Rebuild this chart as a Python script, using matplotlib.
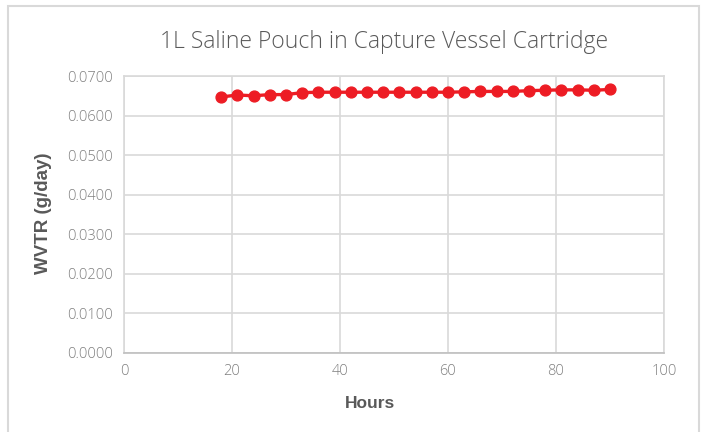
import matplotlib
matplotlib.use("Agg")
import matplotlib.pyplot as plt
from matplotlib.patches import Rectangle

hours = [18, 21, 24, 27, 30, 33, 36, 39, 42, 45, 48, 51, 54, 57, 60, 63, 66, 69, 72, 75, 78, 81, 84, 87, 90]
wvtr = [0.0647, 0.0652, 0.0650, 0.0653, 0.0653, 0.0658, 0.0659, 0.0659, 0.0659, 0.0659, 0.0659, 0.0659,
        0.0659, 0.0659, 0.0659, 0.0660, 0.0661, 0.0661, 0.0661, 0.0663, 0.0664, 0.0665, 0.0665, 0.0664, 0.0666]
xticks = [0, 20, 40, 60, 80, 100]
yticks = [0.0, 0.01, 0.02, 0.03, 0.04, 0.05, 0.06, 0.07]
title = "1L Saline Pouch in Capture Vessel Cartridge"
xlabel = "Hours"
ylabel = "WVTR (g/day)"

W, H = 704, 432
fig = plt.figure(figsize=(W / 100, H / 100), dpi=100)
ax = fig.add_axes([124 / W, 1 - 353 / H, (664 - 124) / W, (353 - 76) / H])

# outer chart border
fig.patches.append(Rectangle((8 / W, -0.05), (699 - 8) / W, 1.05 - 6 / H, transform=fig.transFigure,
                             fill=False, edgecolor="#D9D9D9", linewidth=1.5))

ax.plot(hours, wvtr, color="#ED1C24", linewidth=2.4, marker="o", markersize=7.8, zorder=3)

ax.set_xlim(0, 100)
ax.set_ylim(0, 0.07)
ax.set_xticks(xticks)
ax.set_yticks(yticks)
ax.set_xticklabels([str(t) for t in xticks])
ax.set_yticklabels([f"{t:.4f}" for t in yticks])
ax.grid(True, color="#D9D9D9", linewidth=1.2)
ax.set_axisbelow(True)
for s in ax.spines.values():
    s.set_color("#D9D9D9")
    s.set_linewidth(1.2)
ax.spines["bottom"].set_color("#BFBFBF")
ax.tick_params(length=0, labelsize=10.5, labelcolor="#7F7F7F", pad=8)
for lab in ax.get_xticklabels() + ax.get_yticklabels():
    lab.set_family("Open Sans")
    lab.set_fontweight("light")

fig.text(384 / W, 1 - 42 / H, title, ha="center", va="center", fontsize=16.5,
         color="#595959", family="Open Sans", fontweight="light")
fig.text(370 / W, 1 - 404 / H, xlabel, ha="center", va="center", fontsize=12.5,
         color="#595959", family="Liberation Sans", fontweight="bold")
fig.text(44 / W, 1 - 213 / H, ylabel, ha="center", va="center", fontsize=13.5, rotation=90,
         color="#595959", family="Liberation Sans", fontweight="bold")

fig.savefig("out.png", dpi=100)
